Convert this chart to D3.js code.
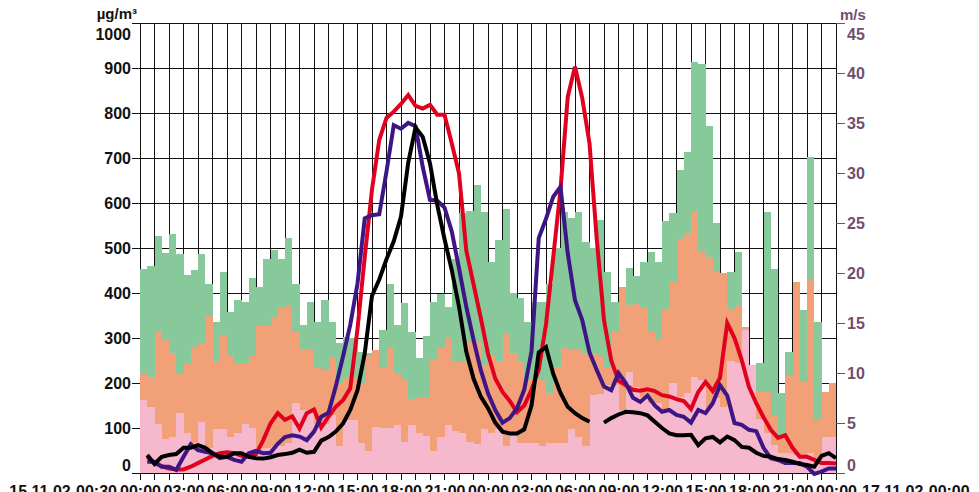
<!DOCTYPE html>
<html>
<head>
<meta charset="utf-8">
<script src="https://cdn.jsdelivr.net/npm/d3@7"></script>
<style>
  body { margin: 0; background: #fff; }
  svg { display: block; font-family: "Liberation Sans", Arial, sans-serif; font-weight: bold; }
</style>
</head>
<body>
<svg id="chart" width="979" height="492"></svg>
<script>
// half-hourly bars, 15.11.02 00:00 -> 17.11.02 00:00 (96 bars)
const pm10 = [453,461,527,488,532,487,439,451,487,420,336,447,358,384,381,434,
  414,475,496,475,522,419,328,381,336,384,336,288,303,300,268,266,
  270,318,421,329,377,313,256,304,381,398,368,475,577,583,639,580,
  470,518,586,400,390,336,381,381,420,500,580,566,580,514,500,563,
  447,381,400,455,438,470,492,470,559,577,673,714,914,910,771,555,
  420,447,492,300,230,244,581,453,177,270,400,362,703,336,170,190];
const pm25 = [220,213,315,297,266,221,242,279,290,350,247,306,262,245,245,259,
  327,327,347,366,372,316,276,276,235,228,258,199,214,214,200,259,
  273,233,277,223,207,164,168,168,253,277,303,247,248,292,292,240,
  262,250,310,266,250,207,207,207,177,236,281,273,273,266,266,259,
  236,314,414,373,376,370,314,296,362,425,521,533,582,492,481,447,
  444,364,373,325,235,180,181,127,77,216,425,203,429,118,181,199];
const pm1 = [162,147,109,75,79,133,90,66,113,56,98,98,79,89,108,99,
  56,55,60,60,66,156,139,139,109,109,130,60,118,118,67,50,
  103,101,99,107,69,107,90,82,50,79,107,93,88,69,64,97,
  88,97,60,82,67,66,66,60,66,67,67,97,81,60,173,176,
  196,196,140,225,192,170,155,155,141,199,170,177,214,207,144,166,
  147,250,245,318,240,119,88,62,44,44,40,40,44,21,81,81];

// line values at 00:30, 01:00, ... 24:00 of each day (96 points)
const lineRed = [36,22,15,10,8,8,14,22,30,38,44,46,44,38,36,42,
  73,110,133,118,126,99,133,141,101,125,147,162,188,320,480,630,
  740,789,803,820,840,816,810,818,796,796,733,666,495,420,345,265,
  210,180,160,135,150,185,230,330,480,630,836,903,833,733,520,340,
  250,205,195,185,183,186,182,173,170,164,160,142,180,202,182,212,
  333,300,251,191,155,124,96,78,84,56,36,36,29,22,22,21];
const linePurple = [25,25,14,14,7,36,64,51,47,44,33,36,29,25,44,49,
  44,45,65,80,84,81,73,92,125,134,192,259,329,421,566,573,
  575,670,773,765,778,771,680,607,605,590,537,455,370,296,229,177,
  140,112,122,144,185,270,522,565,614,636,488,384,340,268,229,192,
  184,222,200,167,158,172,150,136,140,129,125,112,140,133,155,195,
  172,111,107,96,93,56,33,29,22,22,22,14,-2,3,10,10];
const lineBlack = [40,20,36,40,42,56,56,62,56,44,36,36,44,44,36,33,
  32,35,40,42,45,52,45,47,72,80,92,110,140,184,266,394,
  430,475,515,570,690,768,747,688,596,520,451,370,270,210,170,144,
  112,92,88,88,97,150,268,280,220,178,147,133,122,114,null,112,
  122,130,136,135,133,128,114,100,88,84,84,85,62,77,80,68,
  81,73,58,56,45,38,36,31,29,25,20,18,14,38,44,33];

const leftTicks = [0,100,200,300,400,500,600,700,800,900,1000];
const rightTicks = [0,5,10,15,20,25,30,35,40,45];
const startLabel = "15.11.02-00:30";
const endLabel = "17.11.02-00:00";

const t0 = new Date(2002, 10, 15, 0, 0);
const t1 = new Date(2002, 10, 17, 0, 0);
const halfHour = i => new Date(2002, 10, 15, 0, 30 * i);

const svg = d3.select("#chart");
const x = d3.scaleTime().domain([t0, t1]).range([140, 836]);
const y = d3.scaleLinear().domain([0, 1000]).range([473, 23]);
const yR = d3.scaleLinear().domain([0, 45]).range([473, 23]);
const axisCol = "#6e506e";

// grid
const grid = svg.append("g").attr("shape-rendering", "crispEdges").attr("stroke", "#111").attr("stroke-width", 1);
grid.selectAll(".h").data(leftTicks).join("line")
  .attr("x1", 132).attr("x2", 836)
  .attr("y1", d => y(d)).attr("y2", d => y(d));
grid.selectAll(".v").data(d3.timeHour.range(t0, d3.timeHour.offset(t1, 1))).join("line")
  .attr("x1", d => x(d)).attr("x2", d => x(d))
  .attr("y1", 23).attr("y2", 480);

// bars (drawn from 0, tallest behind)
const bars = svg.append("g").attr("shape-rendering", "crispEdges");
[[pm10, "#88c99b"], [pm25, "#f1a078"], [pm1, "#f5b8cd"]].forEach(([vals, col]) => {
  bars.append("g").attr("fill", col).selectAll("rect").data(vals).join("rect")
    .attr("x", (d, i) => x(halfHour(i)))
    .attr("width", (d, i) => x(halfHour(i + 1)) - x(halfHour(i)))
    .attr("y", d => y(d))
    .attr("height", d => y(0) - y(d));
});

// lines
const line = d3.line()
  .defined(d => d != null)
  .x((d, i) => x(halfHour(i + 1)))
  .y(d => y(d));
[[lineRed, "#e2001f"], [linePurple, "#3d1585"], [lineBlack, "#000"]].forEach(([vals, col]) => {
  svg.append("path").datum(vals)
    .attr("fill", "none").attr("stroke", col).attr("stroke-width", 4)
    .attr("d", line);
});

// left axis
const gl = svg.append("g").attr("transform", "translate(140,0)")
  .call(d3.axisLeft(y).tickValues(leftTicks).tickFormat(d3.format("d")).tickSize(8).tickPadding(1));
gl.select(".domain").remove();
gl.selectAll("line").attr("stroke", "#111").attr("shape-rendering", "crispEdges");
gl.selectAll("text").attr("font-size", 16).attr("font-family", null).attr("fill", "#111")
  .attr("dy", d => d === 1000 ? "1.0em" : d === 0 ? "-0.18em" : "0.36em");
svg.append("text").attr("x", 137).attr("y", 19).attr("text-anchor", "end")
  .attr("font-size", 15).attr("fill", "#111").text("µg/m³");

// right axis
const gr = svg.append("g").attr("transform", "translate(836,0)")
  .call(d3.axisRight(yR).tickValues(rightTicks).tickSize(9).tickPadding(2));
gr.select(".domain").remove();
gr.selectAll("line").attr("stroke", axisCol).attr("shape-rendering", "crispEdges");
gr.selectAll("text").attr("font-size", 16).attr("font-family", null).attr("fill", axisCol)
  .attr("dy", d => d === 45 ? "1.0em" : d === 0 ? "-0.18em" : "0.36em");
svg.append("text").attr("x", 840).attr("y", 20)
  .attr("font-size", 15).attr("fill", axisCol).text("m/s");

// bottom axis labels (cut by the lower edge, as in the original)
const gb = svg.append("g").attr("transform", "translate(0,473)")
  .call(d3.axisBottom(x).ticks(d3.timeHour.every(3)).tickFormat(d3.timeFormat("%H:%M")).tickSize(0).tickPadding(0));
gb.select(".domain").remove();
gb.selectAll("text").attr("font-size", 16).attr("font-family", null).attr("fill", "#111")
  .attr("y", 24).attr("dy", 0);
svg.append("text").attr("x", 117).attr("y", 497).attr("text-anchor", "end")
  .attr("font-size", 16).attr("fill", "#111").text(startLabel);
svg.append("text").attr("x", 862).attr("y", 497)
  .attr("font-size", 16).attr("fill", "#111").text(endLabel);
</script>
</body>
</html>
